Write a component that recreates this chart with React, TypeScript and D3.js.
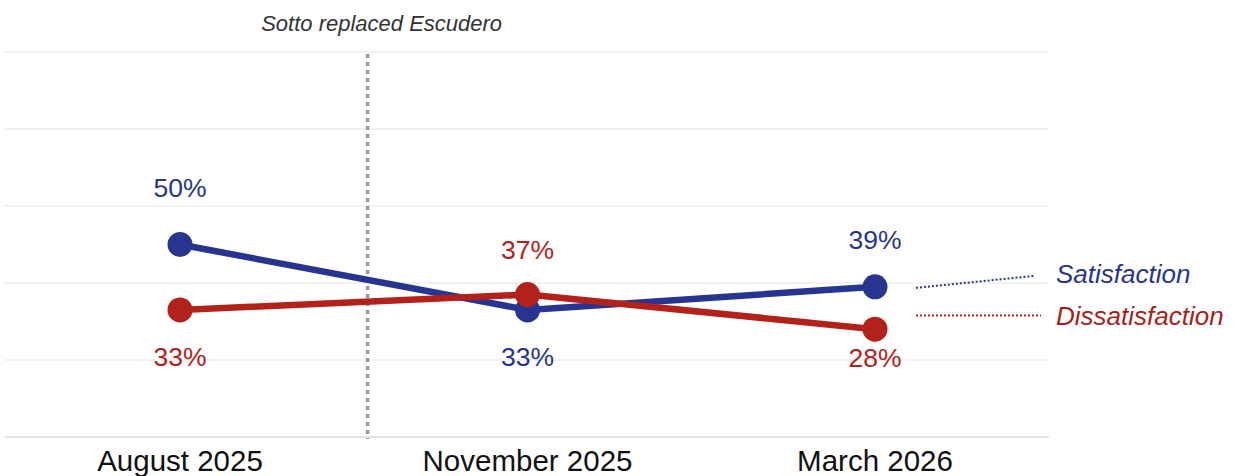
import React from "react";
import * as d3 from "d3";

const categories = ["August 2025", "November 2025", "March 2026"];
const satisfaction = [50, 33, 39];
const dissatisfaction = [33, 37, 28];
const gridTicks = [0, 20, 40, 60, 80, 100];
const annotationText = "Sotto replaced Escudero";
const annotationPosition = 0.54; // fraction of the way from August to November
const seriesNames = ["Satisfaction", "Dissatisfaction"];

const W = 1234;
const H = 476;
const BLUE = "#283590";
const RED = "#b2221a";

// label placement (pixel offsets from point, above: negative)
const satLabelDy = [-48, 56, -38];
const disLabelDy = [56, -36, 38];

export default function App() {
  const x = d3.scalePoint<string>().domain(categories).range([180, 875]);
  const y = d3.scaleLinear().domain([0, 100]).range([437, 52]);

  const line = d3
    .line<number>()
    .x((_, i) => x(categories[i]) as number)
    .y((d) => y(d));

  const x0 = x(categories[0]) as number;
  const x1 = x(categories[1]) as number;
  const divX = x0 + (x1 - x0) * annotationPosition;
  const xLast = x(categories[categories.length - 1]) as number;

  const series = [
    { name: seriesNames[0], values: satisfaction, color: BLUE, dy: satLabelDy },
    { name: seriesNames[1], values: dissatisfaction, color: RED, dy: disLabelDy },
  ];

  const font = "'Liberation Sans', Arial, Helvetica, sans-serif";

  return (
    <svg
      width={W}
      height={H}
      style={{ position: "absolute", left: 0, top: 0, background: "#fff" }}
      fontFamily={font}
    >
      {gridTicks.map((t) => (
        <line
          key={t}
          x1={5}
          x2={1049}
          y1={y(t)}
          y2={y(t)}
          stroke={t === 0 ? "#c8c8c8" : "#e6e6e6"}
          strokeWidth={1.2}
        />
      ))}

      <line
        x1={divX}
        x2={divX}
        y1={y(100) + 2}
        y2={y(0) + 2}
        stroke="#9a9a9a"
        strokeWidth={3.5}
        strokeDasharray="4 4"
      />
      <text
        x={divX + 14}
        y={31}
        textAnchor="middle"
        fontSize={22}
        fontStyle="italic"
        fill="#333"
      >
        {annotationText}
      </text>

      {series.map((s) => (
        <path
          key={s.name + "-line"}
          d={line(s.values) || ""}
          fill="none"
          stroke={s.color}
          strokeWidth={6.5}
          strokeLinejoin="round"
        />
      ))}
      {series.map((s) =>
        s.values.map((v, i) => (
          <circle
            key={s.name + i}
            cx={x(categories[i]) as number}
            cy={y(v)}
            r={12.5}
            fill={s.color}
          />
        ))
      )}
      {series.map((s) =>
        s.values.map((v, i) => (
          <text
            key={s.name + "lbl" + i}
            x={x(categories[i]) as number}
            y={y(v) + s.dy[i]}
            textAnchor="middle"
            fontSize={26.5}
            fill={s.color}
          >
            {v}%
          </text>
        ))
      )}

      {/* end-of-line legend labels */}
      <line
        x1={xLast + 41}
        y1={y(satisfaction[2]) + 1}
        x2={xLast + 160}
        y2={y(satisfaction[2]) - 11}
        stroke={BLUE}
        strokeWidth={2}
        strokeDasharray="2 2"
      />
      <text x={xLast + 181} y={283} fontSize={26} fontStyle="italic" fill={BLUE}>
        {seriesNames[0]}
      </text>
      <line
        x1={xLast + 41}
        y1={315.5}
        x2={xLast + 166}
        y2={315.5}
        stroke={RED}
        strokeWidth={2}
        strokeDasharray="2 2"
      />
      <text x={xLast + 181} y={325} fontSize={26} fontStyle="italic" fill="#a81f19">
        {seriesNames[1]}
      </text>

      {categories.map((c) => (
        <text
          key={c}
          x={x(c) as number}
          y={471}
          textAnchor="middle"
          fontSize={29.5}
          fill="#111"
        >
          {c}
        </text>
      ))}
    </svg>
  );
}
